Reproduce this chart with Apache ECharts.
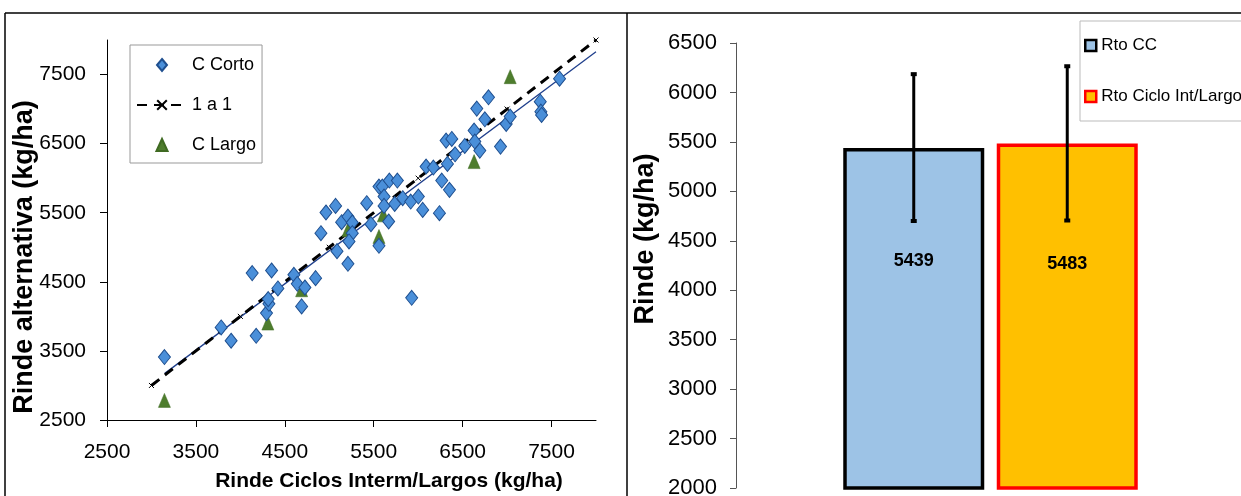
<!DOCTYPE html>
<html>
<head>
<meta charset="utf-8">
<script src="https://cdn.jsdelivr.net/npm/echarts@6/dist/echarts.min.js"></script>
<style>
  html, body { margin: 0; padding: 0; background: #fff; }
  #chart { width: 1241px; height: 496px; }
</style>
</head>
<body>
<div id="chart"></div>
<script>
// ---------- data ----------
const xTicks = [2500, 3500, 4500, 5500, 6500, 7500];
const yTicks = [2500, 3500, 4500, 5500, 6500, 7500];

const cortoPoints = [
  [3146, 3411], [3784, 3840], [3896, 3647], [4178, 3719], [4133, 4626],
  [4351, 4664], [4294, 4047], [4321, 4182], [4313, 4250], [4422, 4404],
  [4602, 4602], [4640, 4471], [4726, 4418], [4689, 4144], [4846, 4553],
  [4906, 5204], [4963, 5503], [5071, 5599], [5087, 4944], [5139, 5363],
  [5210, 5445], [5259, 5358], [5259, 5204], [5222, 5084], [5210, 4761],
  [5421, 5638], [5469, 5334], [5559, 5879], [5597, 5879], [5616, 5734],
  [5616, 5599], [5559, 5021], [5676, 5966], [5766, 5966], [5668, 5373],
  [5736, 5628], [5826, 5710], [5916, 5662], [6002, 5734], [6051, 5541],
  [6239, 5493], [5927, 4269], [6089, 6168], [6171, 6154], [6265, 5966],
  [6352, 5831], [6329, 6207], [6314, 6544], [6378, 6568], [6415, 6346],
  [6524, 6467], [6629, 6689], [6637, 6530], [6693, 6399], [6659, 7007],
  [6750, 6852], [6791, 7171], [6926, 6457], [6990, 6785], [7035, 6891],
  [7373, 7108], [7380, 6963], [7388, 6915], [7590, 7440]
];
const largoPoints = [
  [3146, 2784], [4309, 3903], [4689, 4385], [5210, 5252],
  [5559, 5156], [5608, 5469], [6629, 6240], [7035, 7469]
];
const oneToOne = [[3000, 3000], [4000, 4000], [5000, 5000], [6000, 6000], [7000, 7000], [8000, 8000]];
const fitLine = [[3150, 3175], [8000, 7830]];

const barNames = ['Rto CC', 'Rto Ciclo Int/Largo'];
const barMeans = [5439, 5483];
const errLow = [4700, 4705];
const errHigh = [6185, 6265];

// ---------- chart ----------
const FONT = "'Liberation Sans', Arial, sans-serif";
const plain = v => String(v);

const chart = echarts.init(document.getElementById('chart'), null, { renderer: 'canvas' });

const option = {
  animation: false,
  backgroundColor: '#ffffff',
  graphic: [
    { type: 'line', shape: { x1: 5, y1: 13, x2: 1241, y2: 13 }, style: { stroke: '#000', lineWidth: 1.5 } },
    { type: 'line', shape: { x1: 5, y1: 13, x2: 5, y2: 496 }, style: { stroke: '#000', lineWidth: 1.5 } },
    { type: 'line', shape: { x1: 627, y1: 13, x2: 627, y2: 496 }, style: { stroke: '#000', lineWidth: 1.5 } }
  ],
  legend: [
    {
      data: [
        { name: 'C Corto', icon: 'path://M5,0L10,6L5,12L0,6Z' },
        { name: '1 a 1' },
        { name: 'C Largo', icon: 'path://M6,0L12,13L0,13Z' }
      ],
      orient: 'vertical',
      left: 130, top: 45,
      padding: [11, 6, 9, 6],
      itemWidth: 50, itemHeight: 12, itemGap: 22,
      symbolKeepAspect: true,
      borderColor: '#999', borderWidth: 1,
      backgroundColor: '#fff',
      textStyle: { fontFamily: FONT, fontSize: 18, color: '#000' }
    },
    {
      data: [
        { name: barNames[0], itemStyle: { color: '#9DC3E6', borderColor: '#000', borderWidth: 2.5 } },
        { name: barNames[1], itemStyle: { color: '#FFC000', borderColor: '#FF0000', borderWidth: 2.5 } }
      ],
      orient: 'vertical',
      left: 1080, top: 21,
      padding: [16, 10, 16, 4],
      icon: 'rect',
      itemWidth: 11, itemHeight: 11, itemGap: 34,
      borderColor: '#bbb', borderWidth: 1,
      backgroundColor: '#fff',
      textStyle: { fontFamily: FONT, fontSize: 17, color: '#000' }
    }
  ],
  grid: [
    { left: 107, right: 645, top: 40, bottom: 76, outerBoundsMode: 'none', containLabel: false },
    { left: 837, right: 97, top: 43, bottom: 8, outerBoundsMode: 'none', containLabel: false }
  ],
  xAxis: [
    {
      gridIndex: 0, type: 'value', min: 2500, max: 8000, interval: 1000,
      name: 'Rinde Ciclos Interm/Largos (kg/ha)',
      nameLocation: 'middle', nameGap: 51, nameMoveOverlap: false,
      nameTextStyle: { fontFamily: FONT, fontSize: 21, fontWeight: 'bold', color: '#000', padding: [0, 0, 0, 75] },
      axisLine: { show: true, onZero: false, lineStyle: { color: '#000', width: 1 } },
      axisTick: { show: true, length: 7, customValues: xTicks, lineStyle: { color: '#000' } },
      axisLabel: { customValues: xTicks, formatter: plain, margin: 22, fontFamily: FONT, fontSize: 21, color: '#000' },
      splitLine: { show: false }
    },
    {
      gridIndex: 1, type: 'category', data: barNames, show: false
    }
  ],
  yAxis: [
    {
      gridIndex: 0, type: 'value', min: 2500, max: 8000, interval: 1000,
      name: 'Rinde alternativa (kg/ha)',
      nameLocation: 'middle', nameGap: 69, nameMoveOverlap: false,
      nameTextStyle: { fontFamily: FONT, fontSize: 27, fontWeight: 'bold', color: '#000', padding: [0, 54, 0, 0] },
      axisLine: { show: true, onZero: false, lineStyle: { color: '#000', width: 1 } },
      axisTick: { show: true, length: 7, customValues: yTicks, lineStyle: { color: '#000' } },
      axisLabel: { customValues: yTicks, formatter: plain, margin: 21, fontFamily: FONT, fontSize: 21, color: '#000' },
      splitLine: { show: false }
    },
    {
      gridIndex: 1, type: 'value', min: 2000, max: 6500, interval: 500,
      offset: 101,
      name: 'Rinde (kg/ha)',
      nameLocation: 'middle', nameGap: 77, nameMoveOverlap: false,
      nameTextStyle: { fontFamily: FONT, fontSize: 27, fontWeight: 'bold', color: '#000', padding: [0, 0, 0, 53] },
      axisLine: { show: true, lineStyle: { color: '#555', width: 1 } },
      axisTick: { show: true, length: 6, lineStyle: { color: '#555' } },
      axisLabel: { formatter: plain, margin: 19, fontFamily: FONT, fontSize: 22, color: '#000' },
      splitLine: { show: false }
    }
  ],
  series: [
    {
      name: 'fit', type: 'line', xAxisIndex: 0, yAxisIndex: 0,
      data: fitLine, showSymbol: false, symbol: 'none',
      lineStyle: { color: '#1F3F8C', width: 1.3 }, z: 2, silent: true
    },
    {
      name: '1 a 1', type: 'line', xAxisIndex: 0, yAxisIndex: 0,
      data: oneToOne,
      symbol: 'path://M0,0L4,4M4,0L0,4', symbolSize: 5, showSymbol: true,
      itemStyle: { color: '#000', borderColor: '#000', borderWidth: 1 },
      lineStyle: { color: '#000', width: 3, type: [10, 7] }, z: 3
    },
    {
      name: 'C Largo', type: 'scatter', xAxisIndex: 0, yAxisIndex: 0,
      data: largoPoints, symbol: 'triangle', symbolSize: [12, 14],
      itemStyle: { color: '#4E7D2D', borderColor: '#3F6A22', borderWidth: 0.5, opacity: 1 }, z: 4
    },
    {
      name: 'C Corto', type: 'scatter', xAxisIndex: 0, yAxisIndex: 0,
      data: cortoPoints, symbol: 'diamond', symbolSize: [12, 15],
      itemStyle: { color: '#4A8FD9', borderColor: '#1F4F8F', borderWidth: 1, opacity: 1 }, z: 5
    },
    {
      name: barNames[0], type: 'bar', xAxisIndex: 1, yAxisIndex: 1, stack: 'b',
      barWidth: 141,
      data: [barMeans[0], '-'],
      itemStyle: { color: '#9DC3E6', borderColor: '#000', borderWidth: 3.5 },
      label: {
        show: true, position: ['50%', 113], align: 'center', verticalAlign: 'middle',
        fontFamily: FONT, fontSize: 18, fontWeight: 'bold', color: '#000'
      }
    },
    {
      name: barNames[1], type: 'bar', xAxisIndex: 1, yAxisIndex: 1, stack: 'b',
      barWidth: 141,
      data: ['-', barMeans[1]],
      itemStyle: { color: '#FFC000', borderColor: '#FF0000', borderWidth: 3.5 },
      label: {
        show: true, position: ['50%', 120], align: 'center', verticalAlign: 'middle',
        fontFamily: FONT, fontSize: 18, fontWeight: 'bold', color: '#000'
      }
    },
    {
      name: 'err', type: 'custom', xAxisIndex: 1, yAxisIndex: 1, z: 10, silent: true,
      data: barMeans.map((m, i) => [i, errLow[i], errHigh[i]]),
      encode: { x: 0, y: [1, 2] },
      renderItem: function (params, api) {
        const x = api.value(0);
        const lo = api.coord([x, api.value(1)]);
        const hi = api.coord([x, api.value(2)]);
        return {
          type: 'group',
          children: [
            { type: 'line', shape: { x1: lo[0], y1: lo[1], x2: hi[0], y2: hi[1] }, style: { stroke: '#000', lineWidth: 3 } },
            { type: 'rect', shape: { x: hi[0] - 3, y: hi[1] - 2, width: 6, height: 4 }, style: { fill: '#000' } },
            { type: 'rect', shape: { x: lo[0] - 3, y: lo[1] - 2, width: 6, height: 4 }, style: { fill: '#000' } }
          ]
        };
      }
    }
  ]
};
chart.setOption(option);
</script>
</body>
</html>
